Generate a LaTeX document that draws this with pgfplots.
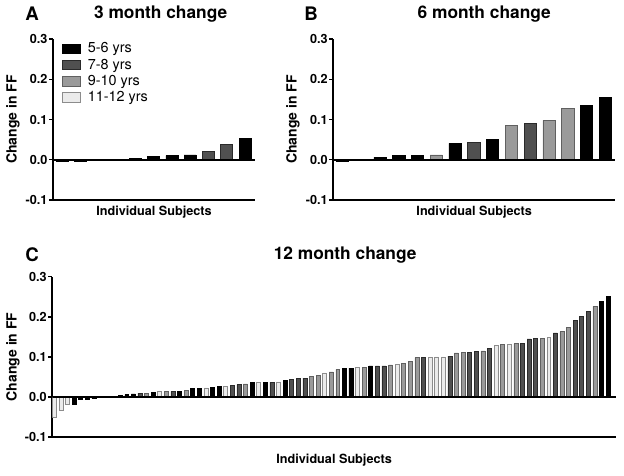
\documentclass[border=0pt]{standalone}
\usepackage{pgfplots}
\pgfplotsset{compat=1.18}
\usepackage{fontspec}
\setmainfont{TeX Gyre Heros}
\definecolor{cK}{HTML}{000000}
\definecolor{cD}{HTML}{505050}
\definecolor{cDd}{HTML}{2A2A2A}
\definecolor{cM}{HTML}{9A9A9A}
\definecolor{cMd}{HTML}{606060}
\definecolor{cL}{HTML}{EBEBEB}
\definecolor{cLd}{HTML}{8C8C8C}
\pgfplotsset{
  barK/.style={ybar, bar shift=0pt, fill=cK, draw=cK, line width=0.4pt},
  barD/.style={ybar, bar shift=0pt, fill=cD, draw=cDd, line width=0.4pt},
  barM/.style={ybar, bar shift=0pt, fill=cM, draw=cMd, line width=0.4pt},
  barL/.style={ybar, bar shift=0pt, fill=cL, draw=cLd, line width=0.4pt},
  panel/.style={
    scale only axis,
    ymin=-0.1, ymax=0.3,
    axis x line*=bottom, axis y line*=left,
    axis line style={line width=1.5pt, black},
    ytick={-0.1,0,0.1,0.2,0.3},
    yticklabels={-0.1,0.0,0.1,0.2,0.3},
    xtick=\empty,
    tick align=outside, major tick length=3pt,
    ytick style={line width=1.1pt, black},
    yticklabel style={font=\bfseries\fontsize{9.5}{10}\selectfont, inner sep=1pt},
    ylabel={Change in FF},
    ylabel style={font=\bfseries\fontsize{10.5}{12}\selectfont, anchor=center},
    xlabel={Individual Subjects},
    xlabel style={font=\bfseries\fontsize{9.5}{11}\selectfont, at={(axis description cs:0.5,0)}, anchor=center},
    title style={font=\bfseries\fontsize{13}{15}\selectfont, at={(axis description cs:0.5,1)}, anchor=center},
    legend image code/.code={\draw[#1] (0pt,-3.6pt) rectangle (13.5pt,3.6pt); \path (18pt,0pt);},
  },
}
\begin{document}
\begin{tikzpicture}
\useasboundingbox (0,0) rectangle (468pt,-356.25pt);
% ---------------- Panel A ----------------
\begin{axis}[panel,
  at={(39.75pt,-150pt)}, anchor=south west,
  width=151.5pt, height=120.75pt,
  xmin=-0.5, xmax=10.55, bar width=0.65,
  title={3 month change}, title style={yshift=12.75pt, xshift=5pt},
  xlabel style={yshift=-9pt},
  ylabel style={at={(axis description cs:-0.198,0.5)}},
  legend style={at={(axis description cs:0,1)}, anchor=north west, xshift=6.5pt, yshift=-1.5pt,
    draw=none, fill=none, inner sep=0pt, row sep=1pt,
    font=\fontsize{10.8}{12}\selectfont,
    nodes={inner sep=1pt}},
  legend cell align=left,
]
\addplot[barK] coordinates {(0,-0.004)(1,-0.004)(4,0.004)(5,0.009)(6,0.010)(7,0.012)(10,0.053)};
\addlegendentry{5-6 yrs}
\addplot[barD] coordinates {(8,0.020)(9,0.038)};
\addlegendentry{7-8 yrs}
\addlegendimage{barM}
\addlegendentry{9-10 yrs}
\addlegendimage{barL}
\addlegendentry{11-12 yrs}
\draw[line width=1.5pt] (axis cs:-0.5,0) -- (axis cs:10.55,0);
\end{axis}
% ---------------- Panel B ----------------
\begin{axis}[panel,
  at={(250pt,-150pt)}, anchor=south west,
  width=211.3pt, height=120.75pt,
  xmin=-0.48, xmax=14.52, bar width=0.65,
  title={6 month change}, title style={yshift=12.75pt, xshift=7.5pt},
  xlabel style={yshift=-9pt},
  ylabel style={at={(axis description cs:-0.143,0.5)}},
]
\addplot[barK] coordinates {(0,-0.004)(2,0.006)(3,0.010)(4,0.010)(6,0.041)(8,0.050)(13,0.135)(14,0.155)};
\addplot[barD] coordinates {(7,0.043)(10,0.091)};
\addplot[barM] coordinates {(5,0.012)(9,0.085)(11,0.098)(12,0.127)};
\draw[line width=1.5pt] (axis cs:-0.48,0) -- (axis cs:14.52,0);
\end{axis}
% ---------------- Panel C ----------------
\begin{axis}[panel,
  at={(39.2pt,-327.9pt)}, anchor=south west,
  width=422.8pt, height=120.4pt,
  xmin=-0.3, xmax=85.2, bar width=0.6,
  title={12 month change}, title style={yshift=10.3pt, xshift=8.25pt},
  xlabel style={yshift=-17pt},
  ylabel style={at={(axis description cs:-0.0697,0.5)}},
]
\addplot[barK] coordinates {(3,-0.018)(4,-0.005)(5,-0.005)(6,-0.004)(10,0.005)(11,0.006)(12,0.008)(15,0.011)(19,0.015)(21,0.022)(22,0.022)(24,0.024)(25,0.026)(30,0.036)(32,0.037)(35,0.041)(44,0.072)(45,0.072)(48,0.078)(83,0.239)(84,0.250)};
\addplot[barD] coordinates {(13,0.010)(18,0.014)(27,0.029)(28,0.031)(33,0.037)(36,0.045)(37,0.046)(38,0.047)(49,0.078)(50,0.078)(56,0.098)(60,0.102)(63,0.112)(64,0.114)(66,0.122)(71,0.134)(72,0.145)(73,0.146)(76,0.160)(79,0.192)(80,0.201)(81,0.214)};
\addplot[barM] coordinates {(14,0.010)(17,0.014)(20,0.016)(29,0.033)(39,0.051)(40,0.055)(42,0.063)(43,0.069)(47,0.074)(51,0.080)(53,0.084)(54,0.089)(55,0.098)(61,0.110)(62,0.112)(65,0.115)(68,0.131)(70,0.133)(74,0.146)(77,0.163)(78,0.173)(82,0.226)};
\addplot[barL] coordinates {(0,-0.051)(1,-0.032)(2,-0.018)(16,0.014)(23,0.023)(26,0.026)(31,0.037)(34,0.038)(41,0.060)(46,0.074)(52,0.081)(57,0.099)(58,0.100)(59,0.100)(67,0.128)(69,0.132)(75,0.148)};
\draw[line width=1.5pt] (axis cs:-0.3,0) -- (axis cs:85.2,0);
\end{axis}
% panel letters
\node[font=\bfseries\fontsize{14}{16}\selectfont, anchor=center] at (24pt,-10.5pt) {A};
\node[font=\bfseries\fontsize{14}{16}\selectfont, anchor=center] at (233.25pt,-10.5pt) {B};
\node[font=\bfseries\fontsize{14}{16}\selectfont, anchor=center] at (24pt,-191.25pt) {C};
\end{tikzpicture}
\end{document}
